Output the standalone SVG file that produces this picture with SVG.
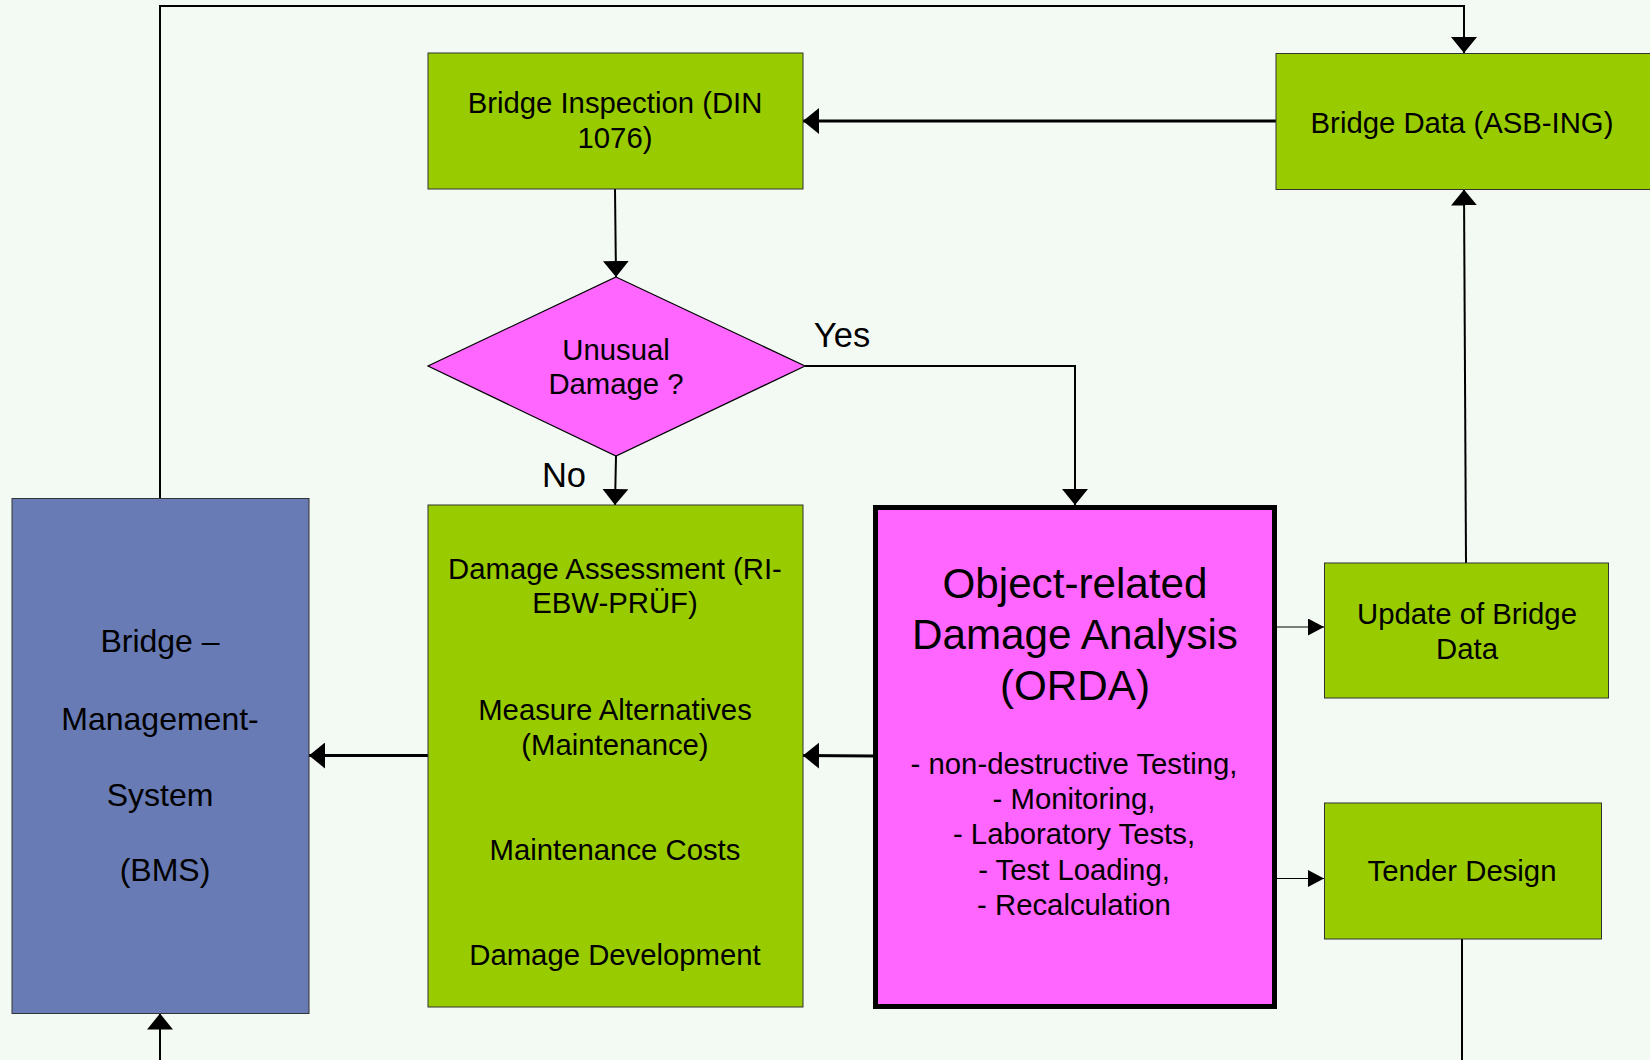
<svg xmlns="http://www.w3.org/2000/svg" width="1650" height="1060" viewBox="0 0 1650 1060">
<defs>
<style>
text{font-family:"Liberation Sans",Arial,sans-serif;fill:#000;text-anchor:middle}
.box{stroke:#333;stroke-width:1}
.green{fill:#99CC00}
.mag{fill:#FF66FF}
.blue{fill:#687BB4}
.c{fill:none;stroke:#000;stroke-width:2}
.ct{fill:none;stroke:#000;stroke-width:3}
.cs{fill:none;stroke:#000;stroke-width:1}
.t29{font-size:29.3px}
.t31{font-size:32px}
.t34{font-size:34.5px}
.t42{font-size:42.2px}
</style>
<marker id="ah" viewBox="0 0 16 26" refX="16" refY="13" markerWidth="16" markerHeight="26" markerUnits="userSpaceOnUse" orient="auto"><path d="M0,0 L16,13 L0,26 z" fill="#000"/></marker>
<marker id="as" viewBox="0 0 16 17" refX="16" refY="8.5" markerWidth="16" markerHeight="17" markerUnits="userSpaceOnUse" orient="auto"><path d="M0,0 L16,8.5 L0,17 z" fill="#000"/></marker>
</defs>
<rect width="1650" height="1060" fill="#F3FAF4"/>

<g id="connectors">
<path class="c" d="M160,498 V6 H1464 V53" marker-end="url(#ah)"/>
<path class="ct" d="M1276,121 H803" marker-end="url(#ah)"/>
<path class="c" d="M615,189 L616,277" marker-end="url(#ah)"/>
<path class="c" d="M805,366 H1075 V505" marker-end="url(#ah)"/>
<path class="c" d="M616,456 L615,505" marker-end="url(#ah)"/>
<path class="ct" d="M428,755.5 H309" marker-end="url(#ah)"/>
<path class="ct" d="M873,756 L803,755.5" marker-end="url(#ah)"/>
<path class="cs" d="M1277,627 H1324" marker-end="url(#as)"/>
<path class="cs" d="M1277,878.5 H1324" marker-end="url(#as)"/>
<path class="c" d="M1466,563 L1464,189.5" marker-end="url(#ah)"/>
<path class="c" d="M1462,939 V1060"/>
<path class="c" d="M160,1060 V1013.5" marker-end="url(#ah)"/>
<text class="t34" x="842" y="347">Yes</text>
<text class="t34" x="564" y="487">No</text>
</g>

<g id="bridge-inspection">
<rect class="box green" x="428" y="53" width="375" height="136"/>
<text class="t29" x="615" y="113">Bridge Inspection (DIN</text>
<text class="t29" x="615" y="148">1076)</text>
</g>

<g id="bridge-data">
<rect class="box green" x="1276" y="53.5" width="380" height="136"/>
<text class="t29" x="1462" y="133">Bridge Data (ASB-ING)</text>
</g>

<g id="unusual-damage">
<polygon class="mag" stroke="#000" stroke-width="1.2" points="616,277 805,366 616,456 428,366"/>
<text class="t29" x="616" y="360">Unusual</text>
<text class="t29" x="616" y="394">Damage ?</text>
</g>

<g id="bms">
<rect class="box blue" x="12" y="498.5" width="297" height="515"/>
<text class="t31" x="160" y="652">Bridge –</text>
<text class="t31" x="160" y="729.5">Management-</text>
<text class="t31" x="160" y="805.5">System</text>
<text class="t31" x="165" y="881">(BMS)</text>
</g>

<g id="damage-assessment">
<rect class="box green" x="428" y="505" width="375" height="502"/>
<text class="t29" x="615" y="579">Damage Assessment (RI-</text>
<text class="t29" x="615" y="613">EBW-PRÜF)</text>
<text class="t29" x="615" y="720">Measure Alternatives</text>
<text class="t29" x="615" y="755">(Maintenance)</text>
<text class="t29" x="615" y="860">Maintenance Costs</text>
<text class="t29" x="615" y="965">Damage Development</text>
</g>

<g id="orda">
<rect class="mag" x="875.5" y="507.5" width="399" height="499" stroke="#000" stroke-width="5"/>
<text class="t42" x="1075" y="598">Object-related</text>
<text class="t42" x="1075" y="649">Damage Analysis</text>
<text class="t42" x="1075" y="700">(ORDA)</text>
<text class="t29" x="1074" y="774">- non-destructive Testing,</text>
<text class="t29" x="1074" y="809">- Monitoring,</text>
<text class="t29" x="1074" y="844">- Laboratory Tests,</text>
<text class="t29" x="1074" y="879.5">- Test Loading,</text>
<text class="t29" x="1074" y="914.5">- Recalculation</text>
</g>

<g id="update-bridge-data">
<rect class="box green" x="1324.5" y="563" width="284" height="135"/>
<text class="t29" x="1467" y="624">Update of Bridge</text>
<text class="t29" x="1467" y="659">Data</text>
</g>

<g id="tender-design">
<rect class="box green" x="1324.5" y="803" width="277" height="136"/>
<text class="t29" x="1462" y="881">Tender Design</text>
</g>
</svg>
